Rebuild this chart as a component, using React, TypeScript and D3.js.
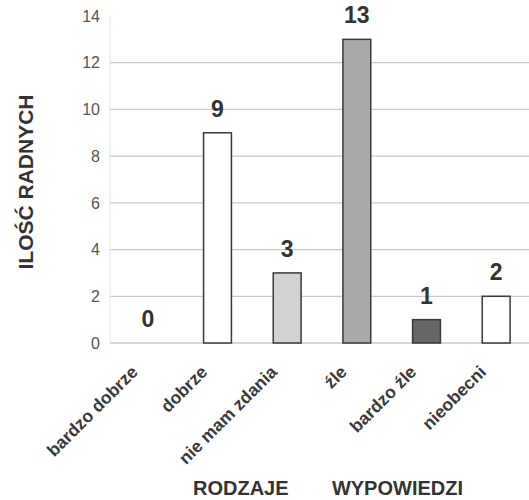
import { useEffect, useRef } from 'react';
import * as d3 from 'd3';

const categories = ['bardzo dobrze', 'dobrze', 'nie mam zdania', 'źle', 'bardzo źle', 'nieobecni'];
const values = [0, 9, 3, 13, 1, 2];
const fills = ['#ffffff', '#ffffff', '#d2d2d2', '#a9a9a9', '#666666', '#ffffff'];
const yTicks = [0, 2, 4, 6, 8, 10, 12, 14];

const W = 529;
const H = 500;
const FONT = 'Liberation Sans, Arial, sans-serif';

const App = () => {
  const svgRef = useRef<SVGSVGElement | null>(null);

  useEffect(() => {
    if (!svgRef.current) return;
    const svg = d3.select(svgRef.current);
    svg.selectAll('*').remove();

    const x = d3.scaleBand().domain(categories).range([113, 531]).paddingInner(0.6).paddingOuter(0.3);
    const y = d3.scaleLinear().domain([0, 14]).range([343, 16]);

    // grid
    svg
      .append('g')
      .selectAll('line')
      .data(yTicks.filter((t) => t < 14))
      .join('line')
      .attr('x1', 110)
      .attr('x2', W)
      .attr('y1', (d) => y(d))
      .attr('y2', (d) => y(d))
      .attr('stroke', '#cacaca')
      .attr('stroke-width', 1.3);

    svg
      .append('line')
      .attr('x1', 110)
      .attr('x2', 110)
      .attr('y1', y(14))
      .attr('y2', y(0))
      .attr('stroke', '#e4e4e4');

    // y tick labels
    svg
      .append('g')
      .selectAll('text')
      .data(yTicks)
      .join('text')
      .attr('x', 100)
      .attr('y', (d) => y(d))
      .attr('dy', '0.36em')
      .attr('text-anchor', 'end')
      .attr('font-family', FONT)
      .attr('font-size', 16)
      .attr('fill', '#555')
      .text((d) => d);

    // bars
    svg
      .append('g')
      .selectAll('rect')
      .data(categories)
      .join('rect')
      .attr('x', (d) => x(d)!)
      .attr('width', x.bandwidth())
      .attr('y', (d, i) => y(values[i]))
      .attr('height', (d, i) => y(0) - y(values[i]))
      .attr('fill', (d, i) => fills[i])
      .attr('stroke', (d, i) => (values[i] > 0 ? '#3a3a3a' : 'none'))
      .attr('stroke-width', 1.5);

    // value labels
    svg
      .append('g')
      .selectAll('text')
      .data(categories)
      .join('text')
      .attr('x', (d) => x(d)! + x.bandwidth() / 2)
      .attr('y', (d, i) => y(values[i]) - 16)
      .attr('text-anchor', 'middle')
      .attr('font-family', FONT)
      .attr('font-weight', 'bold')
      .attr('font-size', 23)
      .attr('fill', '#333')
      .text((d, i) => values[i]);

    // category labels
    svg
      .append('g')
      .selectAll('text')
      .data(categories)
      .join('text')
      .attr('transform', (d) => `translate(${x(d)! + x.bandwidth() / 2 - 9},${373}) rotate(-45)`)
      .attr('text-anchor', 'end')
      .attr('font-family', FONT)
      .attr('font-weight', 'bold')
      .attr('font-size', 17.5)
      .attr('fill', '#3a3a3a')
      .text((d) => d);

    // axis titles
    svg
      .append('text')
      .attr('transform', 'translate(33,182) rotate(-90)')
      .attr('text-anchor', 'middle')
      .attr('font-family', FONT)
      .attr('font-weight', 'bold')
      .attr('font-size', 21)
      .attr('fill', '#333')
      .text('ILOŚĆ RADNYCH');

    svg
      .append('text')
      .attr('x', 193)
      .attr('y', 495)
      .attr('text-anchor', 'start')
      .attr('font-family', FONT)
      .attr('font-weight', 'bold')
      .attr('font-size', 20)
      .attr('fill', '#333')
      .text('RODZAJE');

    svg
      .append('text')
      .attr('x', 463)
      .attr('y', 495)
      .attr('text-anchor', 'end')
      .attr('font-family', FONT)
      .attr('font-weight', 'bold')
      .attr('font-size', 20)
      .attr('fill', '#333')
      .text('WYPOWIEDZI');
  }, []);

  return (
    <svg
      ref={svgRef}
      width={W}
      height={H}
      style={{ position: 'absolute', left: 0, top: 0, background: '#fff' }}
    />
  );
};

export default App;
